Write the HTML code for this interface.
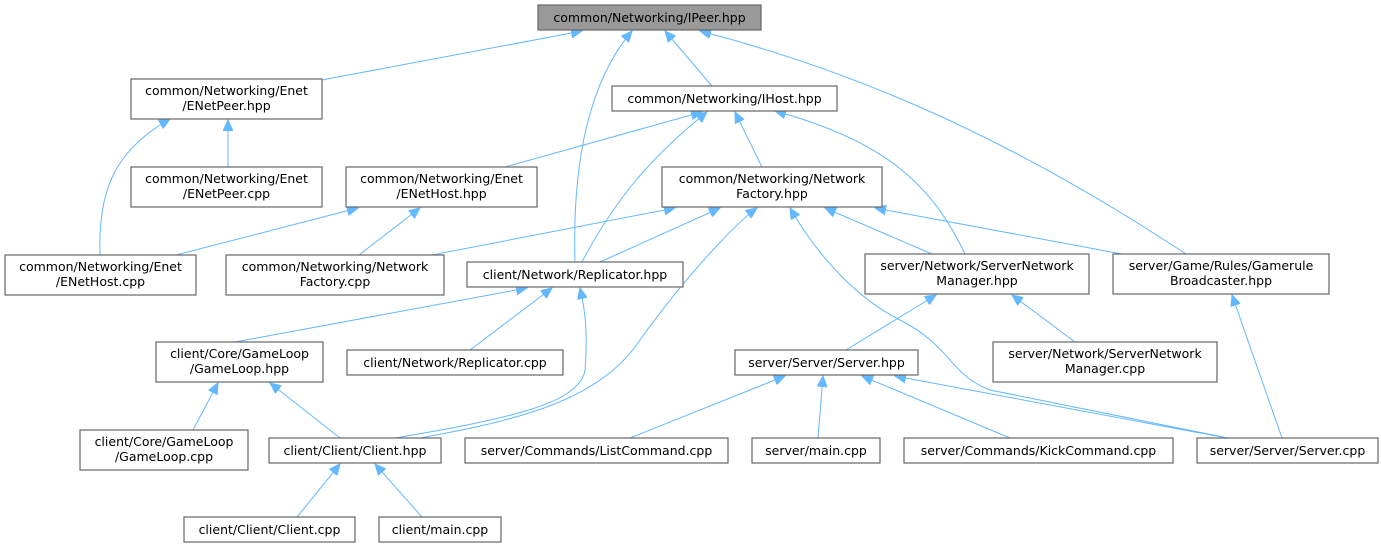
<!DOCTYPE html>
<html><head><meta charset="utf-8"><style>
html,body{margin:0;padding:0;background:#fff;width:1381px;height:549px;overflow:hidden}
svg{display:block}
text{font-family:"DejaVu Sans","Liberation Sans",sans-serif;font-size:12.5px;fill:#000}
.b{fill:#fff;stroke:#666;stroke-width:1.2}
.e{fill:none;stroke:#63b8ff;stroke-width:1}
</style></head><body>
<svg width="1381" height="549" viewBox="0 0 1381 549">
<defs><marker id="a" markerUnits="userSpaceOnUse" markerWidth="12" markerHeight="10" refX="11" refY="5" orient="auto"><path d="M0,0 L11,5 L0,10 z" fill="#63b8ff" stroke="#63b8ff"/></marker></defs>
<g class="e" marker-end="url(#a)">
<path d="M322,80 L582,31"/>
<path d="M575,262 C572,160 590,80 632,31"/>
<path d="M712,86 L665,31"/>
<path d="M1186,254 C1020,145 870,75 700,31"/>
<path d="M228,167 L228,120"/>
<path d="M100,255 C98,190 115,150 170,119"/>
<path d="M505,167 L702,112"/>
<path d="M582,262 C620,190 660,150 707,112"/>
<path d="M762,167 L735,112"/>
<path d="M965,254 C930,180 880,140 775,111"/>
<path d="M176,255 L358,208"/>
<path d="M359,255 L420,208"/>
<path d="M432,255 L675,208"/>
<path d="M600,262 L720,208"/>
<path d="M420,438 C520,420 600,400 640,340 C690,270 740,220 757,208"/>
<path d="M932,254 L825,208"/>
<path d="M1122,254 L875,208"/>
<path d="M1228,438 L990,390 C950,375 950,345 900,320 C860,300 820,260 790,208"/>
<path d="M235,342 L527,288"/>
<path d="M470,350 L552,288"/>
<path d="M395,438 C500,420 580,405 585,370 C588,330 585,310 580,288"/>
<path d="M846,350 L936,295"/>
<path d="M1075,342 L1012,295"/>
<path d="M1282,438 L1232,295"/>
<path d="M193,430 L218,383"/>
<path d="M340,438 L270,383"/>
<path d="M630,438 L785,376"/>
<path d="M818,438 L823,376"/>
<path d="M1010,438 L862,376"/>
<path d="M1227,438 L895,376"/>
<path d="M297,517 L340,464"/>
<path d="M422,517 L375,464"/>
</g>
<rect x="538" y="5" width="223" height="25" fill="#999" stroke="#666" stroke-width="1.2"/>
<text x="649.5" y="22" text-anchor="middle">common/Networking/IPeer.hpp</text>
<g text-anchor="middle">
<rect class="b" x="131" y="79" width="191" height="40"/><text x="226.5" y="95">common/Networking/Enet</text><text x="226.5" y="110">/ENetPeer.hpp</text>
<rect class="b" x="612" y="86" width="225" height="25"/><text x="724.5" y="103">common/Networking/IHost.hpp</text>
<rect class="b" x="131" y="167" width="191" height="40"/><text x="226.5" y="183">common/Networking/Enet</text><text x="226.5" y="198">/ENetPeer.cpp</text>
<rect class="b" x="346" y="167" width="191" height="40"/><text x="441.5" y="183">common/Networking/Enet</text><text x="441.5" y="198">/ENetHost.hpp</text>
<rect class="b" x="662" y="167" width="220" height="40"/><text x="772" y="183">common/Networking/Network</text><text x="772" y="198">Factory.hpp</text>
<rect class="b" x="5" y="255" width="191" height="40"/><text x="100.5" y="271">common/Networking/Enet</text><text x="100.5" y="286">/ENetHost.cpp</text>
<rect class="b" x="226" y="255" width="218" height="40"/><text x="335" y="271">common/Networking/Network</text><text x="335" y="286">Factory.cpp</text>
<rect class="b" x="467" y="262" width="216" height="25"/><text x="575" y="279">client/Network/Replicator.hpp</text>
<rect class="b" x="865" y="254" width="224" height="40"/><text x="977" y="270">server/Network/ServerNetwork</text><text x="977" y="285">Manager.hpp</text>
<rect class="b" x="1113" y="254" width="216" height="40"/><text x="1221" y="270">server/Game/Rules/Gamerule</text><text x="1221" y="285">Broadcaster.hpp</text>
<rect class="b" x="156" y="342" width="167" height="40"/><text x="239.5" y="358">client/Core/GameLoop</text><text x="239.5" y="373">/GameLoop.hpp</text>
<rect class="b" x="347" y="350" width="216" height="25"/><text x="455" y="367">client/Network/Replicator.cpp</text>
<rect class="b" x="735" y="350" width="183" height="25"/><text x="826.5" y="367">server/Server/Server.hpp</text>
<rect class="b" x="993" y="342" width="224" height="40"/><text x="1105" y="358">server/Network/ServerNetwork</text><text x="1105" y="373">Manager.cpp</text>
<rect class="b" x="80" y="430" width="168" height="40"/><text x="164" y="446">client/Core/GameLoop</text><text x="164" y="461">/GameLoop.cpp</text>
<rect class="b" x="269" y="438" width="172" height="25"/><text x="355" y="455">client/Client/Client.hpp</text>
<rect class="b" x="465" y="438" width="263" height="25"/><text x="596.5" y="455">server/Commands/ListCommand.cpp</text>
<rect class="b" x="752" y="438" width="128" height="25"/><text x="816" y="455">server/main.cpp</text>
<rect class="b" x="904" y="438" width="269" height="25"/><text x="1038.5" y="455">server/Commands/KickCommand.cpp</text>
<rect class="b" x="1197" y="438" width="181" height="25"/><text x="1287.5" y="455">server/Server/Server.cpp</text>
<rect class="b" x="184" y="517" width="171" height="25"/><text x="269.5" y="534">client/Client/Client.cpp</text>
<rect class="b" x="379" y="517" width="122" height="25"/><text x="440" y="534">client/main.cpp</text>
</g>
</svg>
</body></html>
